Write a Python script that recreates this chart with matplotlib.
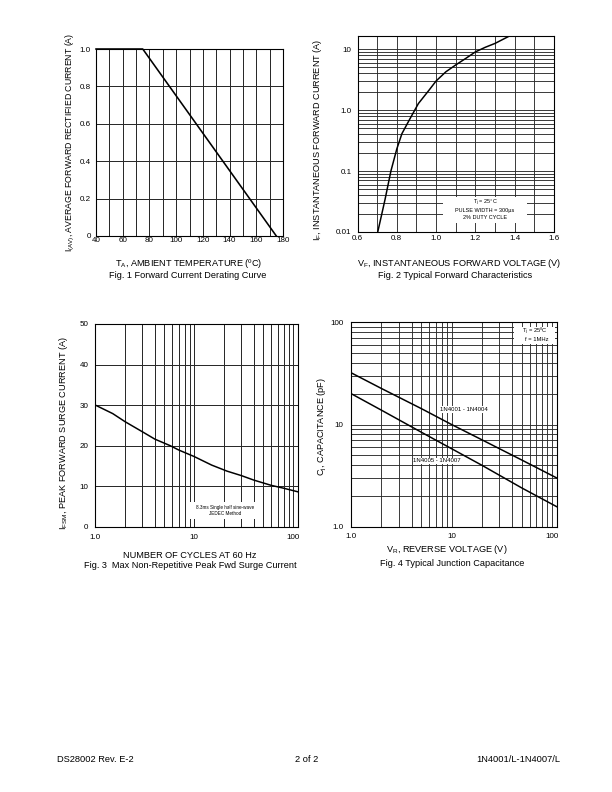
import matplotlib
matplotlib.use("Agg")
import matplotlib.pyplot as plt
from matplotlib.patches import Rectangle
from matplotlib.ticker import FixedLocator, NullFormatter
import numpy as np

plt.rcParams['font.family'] = ['Liberation Sans', 'DejaVu Sans']
plt.rcParams['mathtext.default'] = 'regular'

# ---------------- data ----------------
# Fig 1 derating
fig1_temp = [40, 75, 175]
fig1_current = [1.0, 1.0, 0.0]
fig1_xticks = [40, 60, 80, 100, 120, 140, 160, 180]
fig1_yticks = [0, 0.2, 0.4, 0.6, 0.8, 1.0]
fig1_yticklabels = ['0', '0.2', '0.4', '0.6', '0.8', '1.0']

# Fig 2 forward characteristics
fig2_vf = [0.703, 0.72, 0.74, 0.77, 0.80, 0.826, 0.868, 0.91, 0.965, 1.00, 1.05,
           1.10, 1.15, 1.20, 1.25, 1.30, 1.375]
fig2_if = [0.01, 0.0175, 0.034, 0.10, 0.23, 0.41, 0.73, 1.28, 2.14, 3.0, 4.25,
           5.5, 7.0, 9.0, 10.7, 12.4, 16.5]
fig2_xticks = [0.6, 0.8, 1.0, 1.2, 1.4, 1.6]
fig2_xticklabels = ['0.6', '0.8', '1.0', '1.2', '1.4', '1.6']
fig2_yticks = [0.01, 0.1, 1, 10]
fig2_yticklabels = ['0.01', '0.1', '1.0', '10']

# Fig 3 surge current
fig3_cycles = [1, 1.5, 2, 3, 4, 5.7, 7, 10, 15, 21.5, 30, 40, 60, 80, 112]
fig3_ifsm = [30, 27.9, 25.9, 23.4, 21.6, 20, 18.9, 17.3, 15.2, 13.7, 12.6, 11.5,
             10.2, 9.5, 8.6]
fig3_xticks = [1, 10, 100]
fig3_xticklabels = ['1.0', '10', '100']
fig3_yticks = [0, 10, 20, 30, 40, 50]

# Fig 4 junction capacitance
fig4_vr = [1, 2, 5, 10, 20, 50, 112]
fig4_cj_4001_4004 = [32, 22.5, 14.3, 10.0, 7.1, 4.5, 3.0]
fig4_cj_4005_4007 = [20, 13.8, 8.4, 5.8, 4.0, 2.4, 1.57]
fig4_ticks = [1, 10, 100]
fig4_ticklabels = ['1.0', '10', '100']

W, H = 612, 792
fig = plt.figure(figsize=(W / 72, H / 72), dpi=72)

GRID = '#2a2a2a'
FS_TICK = 8
FS_LAB = 9.1


def ax_at(x0, y0, x1, y1):
    return fig.add_axes([x0 / W, 1 - y1 / H, (x1 - x0) / W, (y1 - y0) / H])


def style(ax):
    for s in ax.spines.values():
        s.set_color('black')
        s.set_linewidth(1.1)
        s.set_zorder(5)
    ax.tick_params(which='both', length=0, labelsize=FS_TICK)
    ax.set_axisbelow(True)


def ftext(x, y, s, **kw):
    fig.text(x / W, 1 - y / H, s, **kw)


def log_minor(lo, hi):
    vals = []
    d = 10.0 ** np.floor(np.log10(lo))
    while d <= hi:
        for k in range(2, 10):
            v = k * d
            if lo < v < hi:
                vals.append(v)
        d *= 10
    return vals

# ---------------- Fig 1 ----------------
ax1 = ax_at(96, 49, 283, 236)
style(ax1)
ax1.plot(fig1_temp, fig1_current, color='black', lw=1.6, zorder=6, clip_on=False)
ax1.set_xlim(40, 180)
ax1.set_ylim(0, 1.0)
ax1.set_xticks(fig1_xticks)
ax1.set_xticks(np.arange(50, 180, 20), minor=True)
ax1.set_yticks(fig1_yticks)
ax1.set_yticklabels(fig1_yticklabels)
ax1.grid(True, which='both', axis='x', color=GRID, lw=1.0)
ax1.grid(True, which='major', axis='y', color=GRID, lw=1.0)
ax1.tick_params(axis='x', pad=1)
ax1.tick_params(axis='y', pad=5)
ftext(70, 142, 'I$_{(AV)}$, AVERAGE FORWARD RECTIFIED CURRENT (A)', rotation=90,
      ha='center', va='center', fontsize=8.8)
ftext(189, 263, 'T$_A$, AMBIENT TEMPERATURE (ºC)', ha='center', va='center', fontsize=FS_LAB)
ftext(188, 275, 'Fig. 1 Forward Current Derating Curve', ha='center', va='center', fontsize=FS_LAB)

# ---------------- Fig 2 ----------------
ax2 = ax_at(357.5, 36, 554, 232)
style(ax2)
ax2.set_yscale('log')
ax2.plot(fig2_vf, fig2_if, color='black', lw=1.5, zorder=3)
ax2.set_xlim(0.6, 1.6)
ax2.set_ylim(0.01, 16.4)
ax2.set_xticks(fig2_xticks)
ax2.set_xticklabels(fig2_xticklabels)
ax2.set_xticks(np.arange(0.7, 1.6, 0.2), minor=True)
ax2.yaxis.set_major_locator(FixedLocator(fig2_yticks))
ax2.set_yticklabels(fig2_yticklabels)
ax2.yaxis.set_minor_locator(FixedLocator(log_minor(0.01, 16.4)))
ax2.yaxis.set_minor_formatter(NullFormatter())
ax2.grid(True, which='both', color=GRID, lw=0.9)
ax2.tick_params(axis='x', pad=3)
ax2.tick_params(axis='y', pad=6)
ax2.add_patch(Rectangle((0.434, 0.045), 0.43, 0.135, transform=ax2.transAxes,
                        facecolor='white', edgecolor='none', zorder=2))
ax2.text(0.649, 0.15, 'T$_j$ = 25°C', transform=ax2.transAxes, ha='center', va='center',
         fontsize=5.5, zorder=4)
ax2.text(0.649, 0.112, 'PULSE WIDTH = 300µs', transform=ax2.transAxes, ha='center',
         va='center', fontsize=5.5, zorder=4)
ax2.text(0.649, 0.075, '2% DUTY CYCLE', transform=ax2.transAxes, ha='center', va='center',
         fontsize=5.5, zorder=4)
ftext(318, 140, 'I$_F$, INSTANTANEOUS FORWARD CURRENT (A)', rotation=90,
      ha='center', va='center', fontsize=FS_LAB)
ftext(459, 263, 'V$_F$, INSTANTANEOUS FORWARD VOLTAGE (V)', ha='center', va='center',
      fontsize=FS_LAB)
ftext(455, 275, 'Fig. 2 Typical Forward Characteristics', ha='center', va='center',
      fontsize=FS_LAB)

# ---------------- Fig 3 ----------------
ax3 = ax_at(95.3, 324, 298, 526.7)
style(ax3)
ax3.set_xscale('log')
ax3.plot(fig3_cycles, fig3_ifsm, color='black', lw=1.5, zorder=3)
ax3.set_xlim(1, 112)
ax3.set_ylim(0, 50)
ax3.xaxis.set_major_locator(FixedLocator(fig3_xticks))
ax3.set_xticklabels(fig3_xticklabels)
ax3.xaxis.set_minor_locator(FixedLocator(log_minor(1, 112)))
ax3.xaxis.set_minor_formatter(NullFormatter())
ax3.set_yticks(fig3_yticks)
ax3.grid(True, which='both', axis='x', color=GRID, lw=1.0)
ax3.grid(True, which='major', axis='y', color=GRID, lw=1.0)
ax3.tick_params(axis='x', pad=7)
ax3.tick_params(axis='y', pad=7)
ax3.add_patch(Rectangle((0.459, 0.037), 0.362, 0.083, transform=ax3.transAxes,
                        facecolor='white', edgecolor='none', zorder=2))
ax3.text(0.64, 0.096, '8.3ms Single half sine-wave', transform=ax3.transAxes,
         ha='center', va='center', fontsize=4.6, zorder=4)
ax3.text(0.64, 0.063, 'JEDEC Method', transform=ax3.transAxes,
         ha='center', va='center', fontsize=4.6, zorder=4)
ftext(63, 433, 'I$_{FSM}$, PEAK FORWARD SURGE CURRENT (A)', rotation=90,
      ha='center', va='center', fontsize=FS_LAB)
ftext(190, 555, 'NUMBER OF CYCLES AT 60 Hz', ha='center', va='center', fontsize=FS_LAB)
ftext(190, 566, 'Fig. 3  Max Non-Repetitive Peak Fwd Surge Current', ha='center',
      va='center', fontsize=FS_LAB)

# ---------------- Fig 4 ----------------
ax4 = ax_at(351.3, 322.3, 556.7, 526.7)
style(ax4)
ax4.set_xscale('log')
ax4.set_yscale('log')
ax4.plot(fig4_vr, fig4_cj_4001_4004, color='black', lw=1.5, zorder=3)
ax4.plot(fig4_vr, fig4_cj_4005_4007, color='black', lw=1.5, zorder=3)
ax4.set_xlim(1, 112)
ax4.set_ylim(1, 100)
ax4.xaxis.set_major_locator(FixedLocator(fig4_ticks))
ax4.set_xticklabels(fig4_ticklabels)
ax4.yaxis.set_major_locator(FixedLocator(fig4_ticks))
ax4.set_yticklabels(fig4_ticklabels)
ax4.xaxis.set_minor_locator(FixedLocator(log_minor(1, 112)))
ax4.yaxis.set_minor_locator(FixedLocator(log_minor(1, 100)))
ax4.xaxis.set_minor_formatter(NullFormatter())
ax4.yaxis.set_minor_formatter(NullFormatter())
ax4.grid(True, which='both', color=GRID, lw=0.9)
ax4.tick_params(axis='x', pad=6)
ax4.tick_params(axis='y', pad=8)
bb = dict(facecolor='white', edgecolor='none', boxstyle='square,pad=0.15')
ax4.text(13.2, 14, '1N4001 - 1N4004', ha='center', va='center', fontsize=6, bbox=bb, zorder=4)
ax4.text(7.2, 4.4, '1N4005 - 1N4007', ha='center', va='center', fontsize=6, bbox=bb, zorder=4)
ax4.add_patch(Rectangle((0.792, 0.895), 0.2, 0.083, transform=ax4.transAxes,
                        facecolor='white', edgecolor='none', zorder=2))
ax4.text(0.892, 0.957, 'T$_j$ = 25ºC', transform=ax4.transAxes, ha='center', va='center',
         fontsize=5.8, zorder=4)
ax4.text(0.905, 0.915, 'f = 1MHz', transform=ax4.transAxes, ha='center', va='center',
         fontsize=5.8, zorder=4)
ftext(322, 426, 'C$_j$, CAPACITANCE (pF)', rotation=90, ha='center', va='center',
      fontsize=FS_LAB)
ftext(447, 550, 'V$_R$, REVERSE VOLTAGE (V)', ha='center', va='center', fontsize=FS_LAB)
ftext(452, 564, 'Fig. 4 Typical Junction Capacitance', ha='center', va='center',
      fontsize=FS_LAB)

# ---------------- footer ----------------
ftext(57, 760, 'DS28002 Rev. E-2', ha='left', va='center', fontsize=9.2)
ftext(307, 760, '2 of 2', ha='center', va='center', fontsize=9.2)
ftext(560, 760, '1N4001/L-1N4007/L', ha='right', va='center', fontsize=9.2)

fig.savefig('out.png', dpi=72, facecolor='white')
